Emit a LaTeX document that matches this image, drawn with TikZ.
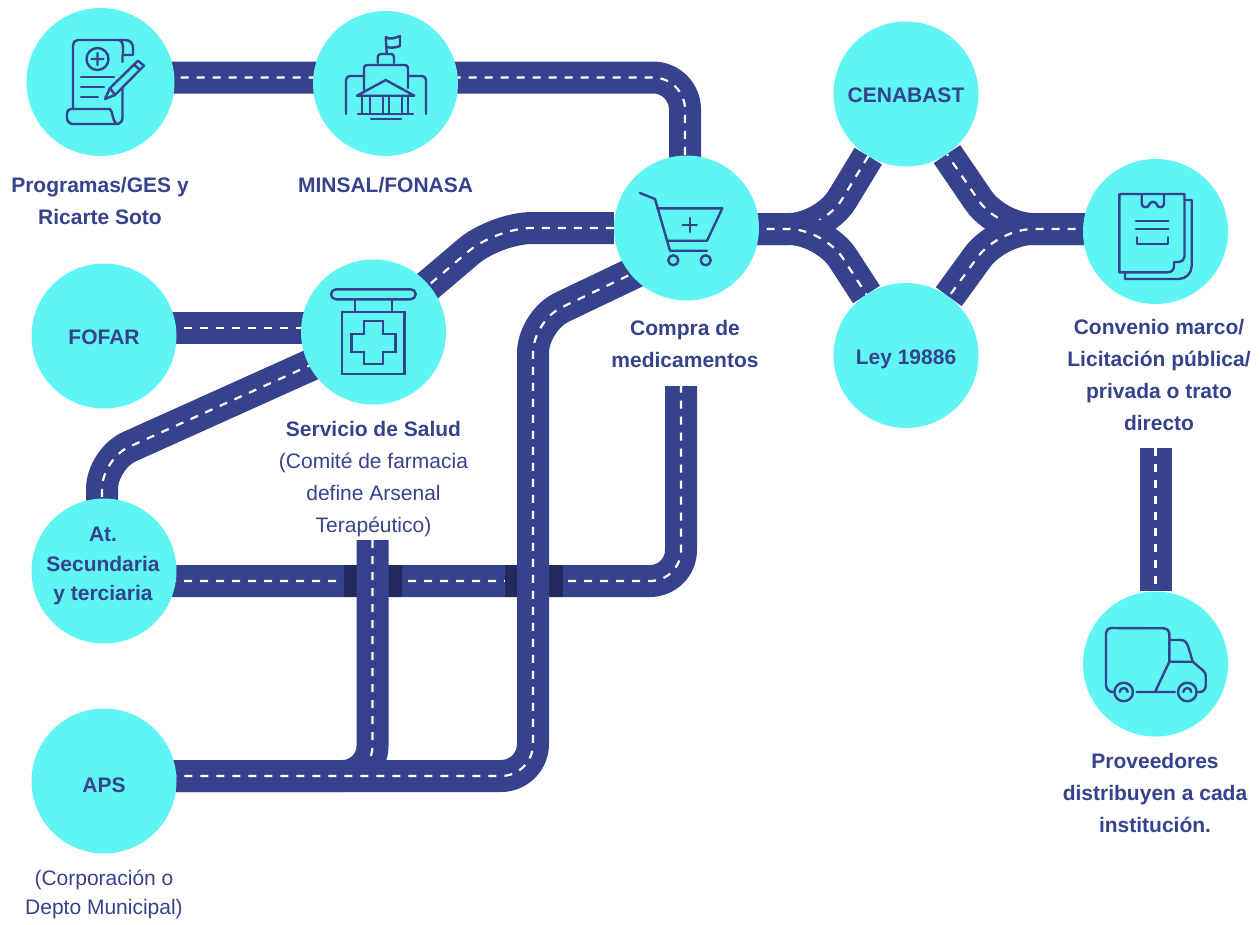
\documentclass[tikz,border=0pt]{standalone}
\usepackage{fontspec}
\setmainfont{Liberation Sans}
\pgfdeclarelayer{bg}
\pgfsetlayers{bg,main}
\definecolor{roadc}{HTML}{36428C}
\definecolor{roaddark}{HTML}{232B5E}
\definecolor{circ}{HTML}{5EF5F4}
\tikzset{
  hub/.style={circle,fill=circ,minimum size=145pt,inner sep=0pt,text=roadc,text height=17pt,text depth=0pt,font=\fontsize{21}{32}\selectfont\bfseries},
  lab/.style={text=roadc,align=center,inner sep=0pt,font=\fontsize{21}{32}\selectfont\bfseries},
  labr/.style={text=roadc,align=center,inner sep=0pt,font=\fontsize{21}{32}\selectfont},
  roadbase/.style={draw=roadc,line width=32pt,line cap=butt,line join=round},
  roaddash/.style={draw=white,line width=2.2pt,dash pattern=on 8pt off 8pt},
  ico/.style={draw=roadc,line width=2.4pt,line cap=round,line join=round},
}
\newcommand{\road}[2][0pt]{\draw[roadbase,rounded corners=#1] #2; \draw[roaddash,rounded corners=#1] #2;}
\begin{document}
\begin{tikzpicture}[x=1pt,y=-1pt]
\useasboundingbox (0,0) rectangle (1260,924);
% hubs
\node[hub,minimum size=148pt] (prog) at (100.5,82) {};
\node[hub] (minsal) at (385.5,83.5) {};
\node[hub] (compra) at (686.5,228) {};
\node[hub] (serv) at (373.5,332) {};
\node[hub] (cena) at (906,94) {CENABAST};
\node[hub] (ley) at (906,355.5) {Ley 19886};
\node[hub] (conv) at (1155.5,231.5) {};
\node[hub] (truck) at (1155.5,664) {};
\node[hub] (fofar) at (104,336) {FOFAR};
\node[hub] (sec) at (104,571) {};
\node[hub] (aps) at (104,781) {};
% bends and free ends
\coordinate (b1) at (685,77.5);
\coordinate (b2) at (496,228);
\coordinate (b3) at (533,321);
\coordinate (b3e) at (686,248);
\coordinate (b3a) at (533,776);
\coordinate (b4) at (373,328);
\coordinate (b5) at (102,459);
\coordinate (b5e) at (373,337);
\coordinate (b6s) at (104,581);
\coordinate (b6) at (681,581);
\coordinate (b6e) at (681,386);
\coordinate (b7s) at (372.5,540);
\coordinate (b7) at (372.5,776);
\coordinate (bl) at (824,229);
\coordinate (br) at (998,229);
\coordinate (tr) at (1155.5,448);
\begin{pgfonlayer}{bg}
\road[32pt]{(prog |- b1) -- (b1) -- (b1 |- compra)}
\road[36pt]{(compra) -- (b2) -- (serv.center)}
\road{(fofar |- b4) -- (b4)}
\road[30pt]{(b5e) -- (b5) -- (b5 |- sec)}
\road[31pt]{(b6s) -- (b6) -- (b6e)}
\fill[roaddark] (344,565) rectangle (402,597);
\fill[roaddark] (505,565) rectangle (563,597);
\road[30pt]{(b7s) -- (b7) -- (aps |- b7)}
\road[32pt]{(b3e) -- (b3) -- (b3a) -- (aps |- b3a)}
\road[35pt]{(compra |- bl) -- (bl) -- (cena)}
\road[35pt]{(compra |- bl) -- (bl) -- (ley)}
\road[35pt]{(conv |- br) -- (br) -- (cena)}
\road[35pt]{(conv |- br) -- (br) -- (ley)}
\road{(tr) -- (truck)}
\end{pgfonlayer}
% labels
\node[lab] (t1) at (100,201) {Programas/GES y\\Ricarte Soto};
\node[lab] (t2) at (385.5,185) {MINSAL/FONASA};
\node[lab] (t3) at (685,344) {Compra de\\medicamentos};
\node[lab] (t4) at (1159,375) {Convenio marco/\\Licitación pública/\\privada o trato\\directo};
\node[lab] (t5) at (373.5,429) {Servicio de Salud};
\node[labr] (t6) at (373.5,495) {(Comité de farmacia\\define Arsenal\\Terapéutico)};
\node[lab] (t7) at (103,566) {At.\\[-2.5pt]Secundaria\\[-2.5pt]y terciaria};
\node[lab] (t8) at (104,785) {APS};
\node[labr] (t9) at (104,894) {(Corporación o\\[-3pt]Depto Municipal)};
\node[lab] (t10) at (1155,792.5) {Proveedores\\distribuyen a cada\\institución.};
% icon: prescription
\draw[ico] (73,109) -- (73,45) arc[start angle=-180,end angle=-90,radius=5] -- (125,40) .. controls (131,40) and (133,44) .. (133,48) -- (133,55) -- (123,55) -- (123,48) .. controls (123,44) and (122,40) .. (118,40);
\draw[ico] (122.5,55) -- (122.5,62) (122.5,88) -- (122.5,118) arc[start angle=0,end angle=90,radius=6] -- (73,124) arc[start angle=90,end angle=180,radius=6] -- (67,113) arc[start angle=180,end angle=270,radius=4] -- (110,109) .. controls (113,112) and (112,120) .. (116.5,124);
\draw[ico] (97.5,59) circle[radius=11] (97.5,53) -- (97.5,65) (91.5,59) -- (103.5,59);
\draw[ico] (81,77) -- (114,77) (81,87) -- (104,87) (81,97) -- (98,97);
\draw[ico] (105,99) -- (110,88) -- (138,60.7) -- (144,65.7) -- (115,95) -- cycle (110,88) -- (115,95) (134,64.5) -- (140,70);
% icon: building
\draw[ico] (386.7,53) -- (385.7,37) .. controls (390,40) and (395,38) .. (400,36) -- (400,46) .. controls (395,48) and (391,48) .. (386.5,47);
\draw[ico] (377.7,63) -- (377.7,57) arc[start angle=-180,end angle=-90,radius=3] -- (391,54) arc[start angle=-90,end angle=0,radius=3] -- (394,63);
\draw[ico] (364,90) -- (364,68) arc[start angle=-180,end angle=-90,radius=3] -- (405,65) arc[start angle=-90,end angle=0,radius=3] -- (408,88);
\draw[ico] (346,114) -- (346,80) arc[start angle=-180,end angle=-90,radius=4] -- (364,76) (426,114) -- (426,80) arc[start angle=0,end angle=-90,radius=4] -- (408,76);
\draw[ico] (357,95.7) -- (385.7,80) -- (414.3,95.7) -- cycle;
\draw[ico] (362,96) -- (362,114) (370,96) -- (370,114) (383,96) -- (383,114) (389,96) -- (389,114) (402,96) -- (402,114) (408,96) -- (408,114);
\draw[ico] (358,113.7) -- (413,113.7) (371,119) -- (401,119);
% icon: pharmacy sign
\draw[ico] (336,289.3) -- (410.7,289.3) arc[start angle=-90,end angle=90,radius=5] -- (336,299.3) arc[start angle=90,end angle=270,radius=5] -- cycle;
\draw[ico] (354.7,299.3) -- (354.7,311.7) (391.7,299.3) -- (391.7,311.7);
\draw[ico,line join=miter] (342,311.7) rectangle (404.3,374);
\draw[ico,line join=miter] (364,321) -- (382.7,321) -- (382.7,333.7) -- (395.4,333.7) -- (395.4,352) -- (382.7,352) -- (382.7,364) -- (364,364) -- (364,352) -- (351.5,352) -- (351.5,333.7) -- (364,333.7) -- cycle;
% icon: cart
\draw[ico] (640,193) -- (655,199) -- (670,250.7) -- (707,250.7);
\draw[ico] (657,208.3) -- (722.3,208.3) -- (707,240.7) -- (668,240.7);
\draw[ico] (673.3,260.3) circle[radius=5] (705.7,260.3) circle[radius=5];
\draw[ico] (689.7,218) -- (689.7,232) (682.7,225) -- (696.7,225);
% icon: clipboard
\draw[ico] (1141.7,194) -- (1119.3,194) -- (1119.3,272.3) -- (1168,272.3) arc[start angle=90,end angle=0,radius=6] -- (1174,262) -- (1179,262) arc[start angle=90,end angle=0,radius=5.5] -- (1184.5,194) -- (1164,194);
\draw[ico] (1141.7,194) -- (1141.7,203) .. controls (1141.7,207) and (1145,208) .. (1148,206.5) .. controls (1151,200) and (1155,200) .. (1158,206.5) .. controls (1161,208) and (1164,207) .. (1164,203) -- (1164,194) -- cycle;
\draw[ico] (1185,200) -- (1191.7,200) -- (1191.7,266) arc[start angle=0,end angle=90,radius=13] -- (1125,279) -- (1125,272.5);
\draw[ico] (1136,220.7) -- (1168.3,220.7) (1136,229) -- (1168.3,229);
\draw[ico] (1136.7,237.3) -- (1136.7,244) -- (1167.7,244) -- (1167.7,237.3);
% icon: truck
\draw[ico] (1113,692) .. controls (1109,692) and (1106,689) .. (1106,685) -- (1106,633) arc[start angle=-180,end angle=-90,radius=5] -- (1164.3,628.3) arc[start angle=-90,end angle=0,radius=5] -- (1169.3,661.7);
\draw[ico] (1169.3,640) -- (1181,640) .. controls (1185,640) and (1187,643) .. (1188.3,647) -- (1192.7,661.7) -- (1203.3,670.7) .. controls (1205,672) and (1205.7,674) .. (1205.7,676) -- (1205.7,686) arc[start angle=0,end angle=90,radius=6] -- (1197.7,692);
\draw[ico] (1169.3,661.7) -- (1192.7,661.7) (1169.3,661.7) -- (1155,692) (1136.7,692) -- (1175,692);
\draw[ico] (1123.7,692) circle[radius=9.3] (1187.3,692) circle[radius=9.3];
\draw[ico] (1119.7,692) arc[start angle=-180,end angle=0,radius=4] (1183.3,692) arc[start angle=-180,end angle=0,radius=4];
\end{tikzpicture}
\end{document}
